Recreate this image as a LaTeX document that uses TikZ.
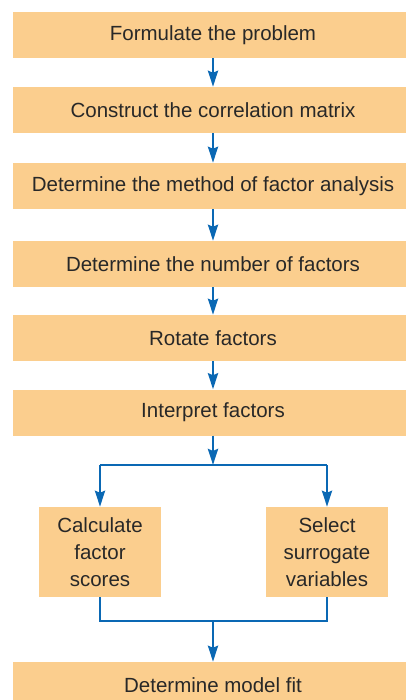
\documentclass[tikz,border=0pt]{standalone}
\usepackage{fontspec}
\setmainfont{Liberation Sans}
\usetikzlibrary{arrows.meta}
\definecolor{boxfill}{RGB}{251,206,142}
\definecolor{flowblue}{RGB}{10,104,180}
\definecolor{txt}{RGB}{40,40,40}
\begin{document}
\begin{tikzpicture}[x=1pt,y=-1pt,
  stepbox/.style={fill=boxfill,draw=none,minimum width=400pt,minimum height=46pt,inner sep=0pt,
    text=txt,font=\fontsize{20.5pt}{24pt}\selectfont},
  smallbox/.style={fill=boxfill,draw=none,minimum width=122pt,minimum height=90pt,inner sep=0pt,
    text=txt,align=center,font=\fontsize{20.5pt}{27pt}\selectfont},
  flow/.style={draw=flowblue,line width=2.8pt},
  arr/.style={flow,-{Stealth[length=16pt,width=10pt,inset=2pt]}}]
\useasboundingbox (0,0) rectangle (405,700);
\node[stepbox] (b1) at (213,35) {Formulate the problem};
\node[stepbox] (b2) at (213,110) {Construct the correlation matrix};
\node[stepbox] (b3) at (213,186) {Determine the method of factor analysis};
\node[stepbox] (b4) at (213,264) {Determine the number of factors};
\node[stepbox] (b5) at (213,338) {Rotate factors};
\node[stepbox] (b6) at (213,412.5) {Interpret factors};
\node[smallbox] (calc) at (100,552) {Calculate\\factor\\scores};
\node[smallbox] (sel) at (327,552) {Select\\surrogate\\variables};
\node[stepbox] (b7) at (213,685) {Determine model fit};
\coordinate (j1) at (213,465);
\coordinate (j2) at (213,621);
\draw[arr] (b1) -- (b2);
\draw[arr] (b2) -- (b3);
\draw[arr] (b3) -- (b4);
\draw[arr] (b4) -- (b5);
\draw[arr] (b5) -- (b6);
\draw[arr] (b6) -- (j1);
\draw[flow] (j1 -| calc.north) -- (j1 -| sel.north);
\draw[arr] (j1 -| calc.north) -- (calc.north);
\draw[arr] (j1 -| sel.north) -- (sel.north);
\draw[flow] (calc.south) -- (j2 -| calc.south) -- (j2 -| sel.south) -- (sel.south);
\draw[arr] (j2) -- (b7);
\end{tikzpicture}
\end{document}
